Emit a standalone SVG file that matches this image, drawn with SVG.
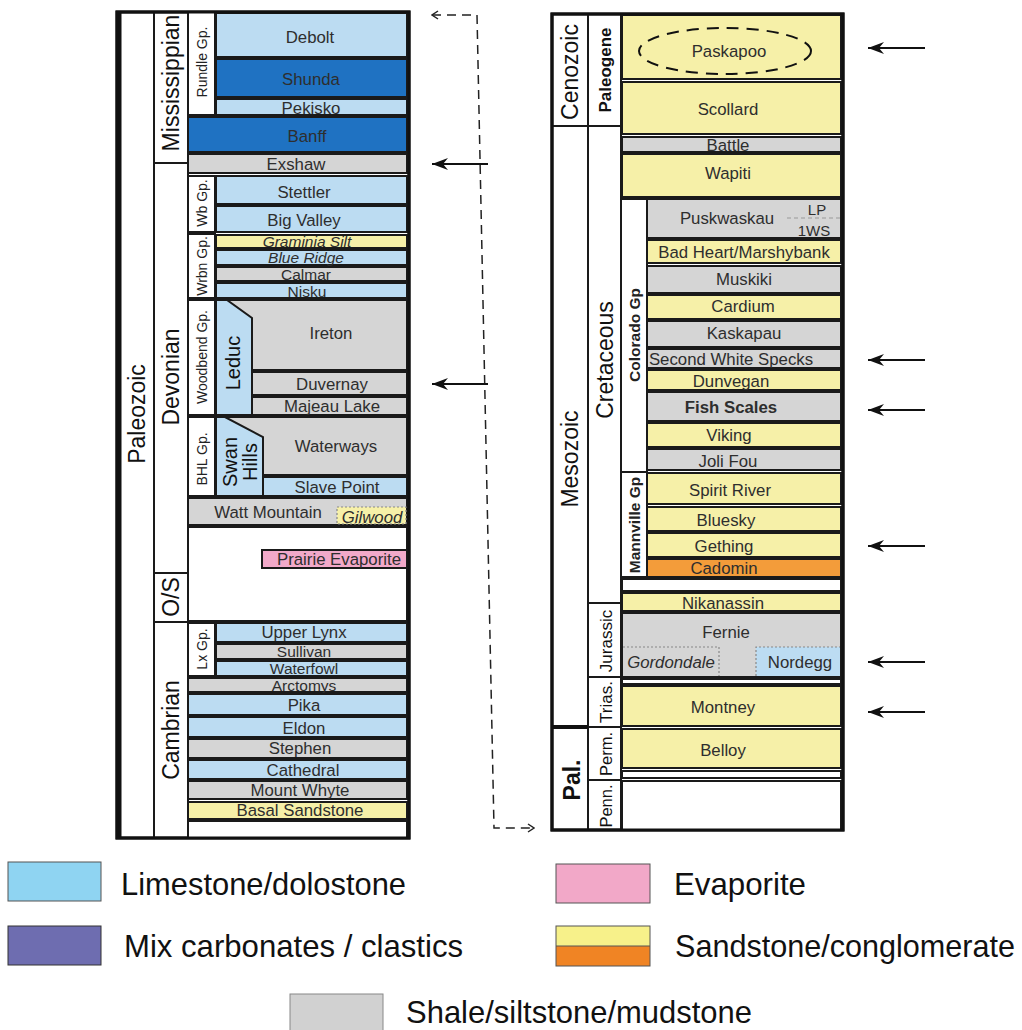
<svg xmlns="http://www.w3.org/2000/svg" width="1022" height="1030" viewBox="0 0 1022 1030">
<defs>
<style>
.f{stroke:#1a1a1a;stroke-width:2}
.w{fill:#fff}
.lb{fill:#bcdcf2}
.db{fill:#1f72c2}
.gy{fill:#d5d5d5}
.yl{fill:#f6f0a8}
.or{fill:#f39c3a}
.pk{fill:#f2a9c9}
.dot{fill:none;stroke:#888;stroke-width:1.2;stroke-dasharray:2 2}
.ln{stroke:#1a1a1a;stroke-width:2;fill:none}
text{font-family:"Liberation Sans",Arial,Helvetica,sans-serif}
.t{font-size:16.8px;fill:#2e2e2e;text-anchor:middle;dominant-baseline:central}
.s{font-size:15.5px}
.it{font-style:italic}
.p{font-size:23px;fill:#111;text-anchor:middle;dominant-baseline:central}
.g{font-size:14px;fill:#222;text-anchor:middle;dominant-baseline:central}
.b{font-weight:bold}
.lg{font-size:32px;fill:#111;dominant-baseline:central}
.arr{stroke:#111;stroke-width:2;fill:none}
.dash{stroke:#222;stroke-width:1.5;fill:none;stroke-dasharray:9 6}
</style>
<marker id="ah" viewBox="0 0 16 12" refX="16" refY="6" markerWidth="16" markerHeight="12" markerUnits="userSpaceOnUse" orient="auto">
<path d="M16,6 L0,0 L5,6 L0,12 Z" fill="#111"/>
</marker>
<marker id="chev" viewBox="0 0 8 10" refX="7" refY="5" markerWidth="8" markerHeight="10" markerUnits="userSpaceOnUse" orient="auto-start-reverse">
<path d="M1,1 L7,5 L1,9" fill="none" stroke="#222" stroke-width="1.5"/>
</marker>
</defs>
<rect width="1022" height="1030" fill="#fff"/>

<!-- LEFT COLUMN -->
<g id="left-frame">
<rect x="117" y="12" width="292" height="826" fill="#fff" stroke="#111" stroke-width="3"/>
<line x1="119" y1="12" x2="119" y2="838" stroke="#111" stroke-width="5"/>
<line class="ln" x1="154" y1="12" x2="154" y2="838"/>
<line class="ln" x1="188" y1="12" x2="188" y2="838"/>
<line class="ln" x1="154" y1="163" x2="188" y2="163"/>
<line class="ln" x1="154" y1="573" x2="188" y2="573"/>
<line class="ln" x1="154" y1="622" x2="188" y2="622"/>
</g>
<g id="era-paleozoic"><text class="p" transform="translate(137,414) rotate(-90)">Paleozoic</text></g>
<g id="per-mississippian"><text class="p" transform="translate(171,83) rotate(-90)">Mississippian</text></g>
<g id="per-devonian"><text class="p" transform="translate(171,377) rotate(-90)">Devonian</text></g>
<g id="per-os"><text class="p" transform="translate(171,597) rotate(-90)">O/S</text></g>
<g id="per-cambrian"><text class="p" transform="translate(171,730) rotate(-90)">Cambrian</text></g>

<g id="debolt"><rect class="f lb" x="216" y="13" width="191" height="44"/><text class="t" x="310" y="37">Debolt</text></g>
<g id="shunda"><rect class="f db" x="216" y="59" width="191" height="38"/><text class="t" x="311" y="79" fill="#111">Shunda</text></g>
<g id="pekisko"><rect class="f lb" x="216" y="99" width="191" height="16"/><text class="t" x="311" y="108">Pekisko</text></g>
<g id="rundle-gp"><rect class="f w" x="188" y="12" width="27" height="103"/><text class="g" transform="translate(202,62) rotate(-90)">Rundle Gp.</text></g>
<g id="banff"><rect class="f db" x="188" y="117" width="219" height="35"/><text class="t" x="307" y="136" fill="#111">Banff</text></g>
<g id="exshaw"><rect class="f gy" x="188" y="154" width="219" height="19"/><text class="t" x="296" y="164">Exshaw</text></g>
<g id="stettler"><rect class="f lb" x="216" y="176" width="191" height="28"/><text class="t" x="304" y="192">Stettler</text></g>
<g id="big-valley"><rect class="f lb" x="216" y="206" width="191" height="26"/><text class="t" x="304" y="220">Big Valley</text></g>
<g id="wb-gp"><rect class="f w" x="188" y="176" width="27" height="56"/><text class="g" transform="translate(202,203) rotate(-90)">Wb Gp.</text></g>
<g id="graminia"><rect class="f yl" x="216" y="235" width="191" height="13"/><text class="t s it" x="307" y="241.5">Graminia Silt</text></g>
<g id="blue-ridge"><rect class="f lb" x="216" y="250" width="191" height="15"/><text class="t s it" x="306" y="257.5" fill="#2c3a55">Blue Ridge</text></g>
<g id="calmar"><rect class="f gy" x="216" y="267" width="191" height="14"/><text class="t s" x="306" y="274">Calmar</text></g>
<g id="nisku"><rect class="f lb" x="216" y="283" width="191" height="15"/><text class="t s" x="307" y="291">Nisku</text></g>
<g id="wrbn-gp"><rect class="f w" x="188" y="234" width="27" height="64"/><text class="g" transform="translate(202,266) rotate(-90)">Wrbn Gp.</text></g>
<g id="ireton"><rect class="f gy" x="216" y="300" width="191" height="70"/><text class="t" x="331" y="333">Ireton</text></g>
<g id="duvernay"><rect class="f gy" x="252" y="372" width="155" height="23"/><text class="t" x="332" y="384">Duvernay</text></g>
<g id="majeau-lake"><rect class="f gy" x="252" y="397" width="155" height="18"/><text class="t" x="332" y="406">Majeau Lake</text></g>
<g id="leduc"><polygon class="f lb" points="216,300 227,300 252,318 252,415 216,415"/><text class="p" style="font-size:20px" transform="translate(233,363) rotate(-90)">Leduc</text></g>
<g id="woodbend-gp"><rect class="f w" x="188" y="300" width="27" height="115"/><text class="g" transform="translate(202,357) rotate(-90)">Woodbend Gp.</text></g>
<g id="waterways"><rect class="f gy" x="216" y="417" width="191" height="58"/><text class="t" x="336" y="446">Waterways</text></g>
<g id="slave-point"><rect class="f lb" x="263" y="477" width="144" height="19"/><text class="t" x="337" y="487">Slave Point</text></g>
<g id="swan-hills"><polygon class="f lb" points="216,417 225,417 263,437 263,496 216,496"/><text class="p" style="font-size:20px" transform="translate(230,462) rotate(-90)">Swan</text><text class="p" style="font-size:20px" transform="translate(250,462) rotate(-90)">Hills</text></g>
<g id="bhl-gp"><rect class="f w" x="188" y="417" width="27" height="79"/><text class="g" transform="translate(202,459) rotate(-90)">BHL Gp.</text></g>
<g id="watt-mountain"><rect class="f gy" x="188" y="498" width="219" height="27"/><text class="t" x="268" y="512">Watt Mountain</text></g>
<g id="gilwood"><rect class="yl" x="337" y="507" width="69" height="17"/><rect class="dot" x="337" y="507" width="69" height="17"/><text class="t it" x="372" y="517">Gilwood</text></g>
<g id="gap-devonian"><rect class="f w" x="188" y="527" width="219" height="94"/></g>
<g id="prairie-evaporite"><rect class="f pk" x="262" y="550" width="145" height="18"/><text class="t" x="339" y="559">Prairie Evaporite</text></g>
<g id="upper-lynx"><rect class="f lb" x="216" y="623" width="191" height="19"/><text class="t" x="304" y="632">Upper Lynx</text></g>
<g id="sullivan"><rect class="f gy" x="216" y="644" width="191" height="15"/><text class="t s" x="304" y="651">Sullivan</text></g>
<g id="waterfowl"><rect class="f lb" x="216" y="661" width="191" height="15"/><text class="t s" x="304" y="668.5">Waterfowl</text></g>
<g id="lx-gp"><rect class="f w" x="188" y="623" width="27" height="53"/><text class="g" transform="translate(202,649) rotate(-90)">Lx Gp.</text></g>
<g id="arctomys"><rect class="f gy" x="188" y="678" width="219" height="14"/><text class="t s" x="304" y="685">Arctomys</text></g>
<g id="pika"><rect class="f lb" x="188" y="694" width="219" height="21"/><text class="t" x="304" y="705">Pika</text></g>
<g id="eldon"><rect class="f lb" x="188" y="717" width="219" height="20"/><text class="t" x="304" y="728">Eldon</text></g>
<g id="stephen"><rect class="f gy" x="188" y="739" width="219" height="19"/><text class="t" x="300" y="748">Stephen</text></g>
<g id="cathedral"><rect class="f lb" x="188" y="760" width="219" height="19"/><text class="t" x="303" y="770">Cathedral</text></g>
<g id="mount-whyte"><rect class="f gy" x="188" y="781" width="219" height="18"/><text class="t" x="300" y="790">Mount Whyte</text></g>
<g id="basal-sandstone"><rect class="f yl" x="188" y="802" width="219" height="17"/><text class="t" x="300" y="810">Basal Sandstone</text></g>
<g id="base-left"><rect class="f w" x="188" y="821" width="219" height="17"/></g>
<rect x="117" y="12" width="292" height="826" fill="none" stroke="#111" stroke-width="3"/>

<!-- RIGHT COLUMN -->
<g id="right-frame">
<rect x="552" y="14" width="291" height="816" fill="#fff" stroke="#111" stroke-width="3"/>
<line class="ln" x1="588" y1="14" x2="588" y2="830"/>
<line class="ln" x1="621" y1="14" x2="621" y2="830"/>
<line class="ln" x1="552" y1="126" x2="621" y2="126"/>
<line x1="552" y1="727" x2="588" y2="727" stroke="#111" stroke-width="4"/>
<line class="ln" x1="588" y1="603" x2="621" y2="603"/>
<line class="ln" x1="588" y1="677" x2="621" y2="677"/>
<line class="ln" x1="588" y1="727" x2="621" y2="727"/>
<line class="ln" x1="588" y1="780" x2="621" y2="780"/>
</g>
<g id="era-cenozoic"><text class="p" transform="translate(570,72) rotate(-90)">Cenozoic</text></g>
<g id="era-mesozoic"><text class="p" transform="translate(570,459) rotate(-90)">Mesozoic</text></g>
<g id="era-pal"><text class="p b" transform="translate(572,780) rotate(-90)">Pal.</text></g>
<g id="per-paleogene"><text class="p b" style="font-size:17px" transform="translate(605,70) rotate(-90)">Paleogene</text></g>
<g id="per-cretaceous"><text class="p" transform="translate(605,360) rotate(-90)">Cretaceous</text></g>
<g id="per-jurassic"><text class="p" style="font-size:17px" transform="translate(606,641) rotate(-90)">Jurassic</text></g>
<g id="per-trias"><text class="p" style="font-size:17px" transform="translate(606,702) rotate(-90)">Trias.</text></g>
<g id="per-perm"><text class="p" style="font-size:16.5px" transform="translate(606,754) rotate(-90)">Perm.</text></g>
<g id="per-penn"><text class="p" style="font-size:16.5px" transform="translate(606,806) rotate(-90)">Penn.</text></g>

<g id="paskapoo"><rect class="f yl" x="622" y="15" width="219" height="64"/><ellipse cx="725" cy="51" rx="86" ry="23" fill="none" stroke="#111" stroke-width="2" stroke-dasharray="12 8"/><text class="t" x="729" y="51">Paskapoo</text></g>
<g id="scollard"><rect class="f yl" x="622" y="82" width="219" height="52"/><text class="t" x="728" y="109">Scollard</text></g>
<g id="battle"><rect class="f gy" x="622" y="137" width="219" height="15"/><text class="t" x="728" y="145">Battle</text></g>
<g id="wapiti"><rect class="f yl" x="622" y="154" width="219" height="43"/><text class="t" x="728" y="173">Wapiti</text></g>
<g id="puskwaskau"><rect class="f gy" x="647" y="199" width="194" height="39"/><text class="t" x="727" y="218">Puskwaskau</text><line x1="787" y1="218" x2="840" y2="218" stroke="#999" stroke-width="1.2" stroke-dasharray="4 3"/><text class="t" style="font-size:15px" x="817" y="209">LP</text><text class="t" style="font-size:15px" x="814" y="230">1WS</text></g>
<g id="bad-heart"><rect class="f yl" x="647" y="240" width="194" height="23"/><text class="t" x="744" y="252">Bad Heart/Marshybank</text></g>
<g id="muskiki"><rect class="f gy" x="647" y="266" width="194" height="27"/><text class="t" x="744" y="279">Muskiki</text></g>
<g id="cardium"><rect class="f yl" x="647" y="295" width="194" height="24"/><text class="t" x="743" y="306">Cardium</text></g>
<g id="kaskapau"><rect class="f gy" x="647" y="321" width="194" height="26"/><text class="t" x="744" y="333">Kaskapau</text></g>
<g id="second-white-specks"><rect class="f gy" x="647" y="349" width="194" height="19"/><text class="t" x="731" y="359">Second White Specks</text></g>
<g id="dunvegan"><rect class="f yl" x="647" y="370" width="194" height="20"/><text class="t" x="731" y="381">Dunvegan</text></g>
<g id="fish-scales"><rect class="f gy" x="647" y="392" width="194" height="29"/><text class="t b" x="731" y="407" fill="#111">Fish Scales</text></g>
<g id="viking"><rect class="f yl" x="647" y="423" width="194" height="24"/><text class="t" x="729" y="435">Viking</text></g>
<g id="joli-fou"><rect class="f gy" x="647" y="449" width="194" height="21"/><text class="t" x="728" y="461">Joli Fou</text></g>
<g id="colorado-gp"><rect class="f w" x="621" y="199" width="26" height="273"/><text class="g b" style="font-size:15.5px" transform="translate(634,335) rotate(-90)">Colorado Gp</text></g>
<g id="spirit-river"><rect class="f yl" x="647" y="473" width="194" height="31"/><text class="t" x="730" y="490">Spirit River</text></g>
<g id="bluesky"><rect class="f yl" x="647" y="507" width="194" height="24"/><text class="t" x="726" y="520">Bluesky</text></g>
<g id="gething"><rect class="f yl" x="647" y="533" width="194" height="24"/><text class="t" x="724" y="546">Gething</text></g>
<g id="cadomin"><rect class="f or" x="647" y="559" width="194" height="18"/><text class="t" x="724" y="568">Cadomin</text></g>
<g id="mannville-gp"><rect class="f w" x="621" y="472" width="26" height="105"/><text class="g b" style="font-size:15.5px" transform="translate(634,525) rotate(-90)">Mannville Gp</text></g>
<g id="gap-cretaceous"><rect class="f w" x="622" y="579" width="219" height="12"/></g>
<g id="nikanassin"><rect class="f yl" x="622" y="593" width="219" height="18"/><text class="t" x="723" y="603">Nikanassin</text></g>
<g id="fernie"><rect class="f gy" x="622" y="613" width="219" height="64"/><text class="t" x="726" y="632">Fernie</text></g>
<g id="gordondale"><path class="dot" d="M623,647 L719,647 L719,676"/><text class="t it" x="671" y="662">Gordondale</text></g>
<g id="nordegg"><rect class="lb" x="756" y="647" width="84" height="29"/><path class="dot" d="M756,676 L756,647 L840,647"/><text class="t" x="800" y="662">Nordegg</text></g>
<rect class="f" fill="none" x="622" y="613" width="219" height="64"/>
<g id="gap-triassic"><rect class="f w" x="622" y="679" width="219" height="5"/></g>
<g id="montney"><rect class="f yl" x="622" y="686" width="219" height="40"/><text class="t" x="723" y="707">Montney</text></g>
<g id="belloy"><rect class="f yl" x="622" y="729" width="219" height="39"/><text class="t" x="723" y="750">Belloy</text></g>
<g id="gap-permian"><rect class="f w" x="622" y="771" width="219" height="7"/></g>
<g id="pennsylvanian"><rect class="f w" x="622" y="781" width="219" height="49"/></g>
<rect x="552" y="14" width="291" height="816" fill="none" stroke="#111" stroke-width="3"/>

<!-- CONNECTORS -->
<g id="connectors">
<path class="dash" d="M432,15 L477,15 L494,828 L534,828" marker-start="url(#chev)" marker-end="url(#chev)"/>
<line class="arr" x1="488" y1="164" x2="432" y2="164" marker-end="url(#ah)"/>
<line class="arr" x1="488" y1="384" x2="432" y2="384" marker-end="url(#ah)"/>
<line class="arr" x1="925" y1="48" x2="868" y2="48" marker-end="url(#ah)"/>
<line class="arr" x1="925" y1="360" x2="868" y2="360" marker-end="url(#ah)"/>
<line class="arr" x1="925" y1="410" x2="868" y2="410" marker-end="url(#ah)"/>
<line class="arr" x1="925" y1="546" x2="868" y2="546" marker-end="url(#ah)"/>
<line class="arr" x1="925" y1="662" x2="868" y2="662" marker-end="url(#ah)"/>
<line class="arr" x1="925" y1="712" x2="868" y2="712" marker-end="url(#ah)"/>
</g>

<!-- LEGEND -->
<g id="legend-limestone"><rect x="8" y="862" width="93" height="39" fill="#8fd4f2" stroke="#555" stroke-width="1"/><text class="lg" x="121" y="884" textLength="285" lengthAdjust="spacingAndGlyphs">Limestone/dolostone</text></g>
<g id="legend-evaporite"><rect x="556" y="864" width="94" height="39" fill="#f2a8c8" stroke="#555" stroke-width="1"/><text class="lg" x="674" y="884" textLength="132" lengthAdjust="spacingAndGlyphs">Evaporite</text></g>
<g id="legend-mix"><rect x="8" y="926" width="93" height="39" fill="#6e6db0" stroke="#333" stroke-width="1"/><text class="lg" x="124" y="946" textLength="339" lengthAdjust="spacingAndGlyphs">Mix carbonates / clastics</text></g>
<g id="legend-sandstone"><rect x="556" y="926" width="94" height="20" fill="#f7f18a"/><rect x="556" y="946" width="94" height="20" fill="#f08424"/><line x1="556" y1="946" x2="650" y2="946" stroke="#555" stroke-width="1"/><rect x="556" y="926" width="94" height="40" fill="none" stroke="#555" stroke-width="1"/><text class="lg" x="675" y="946" textLength="340" lengthAdjust="spacingAndGlyphs">Sandstone/conglomerate</text></g>
<g id="legend-shale"><rect x="290" y="994" width="93" height="40" fill="#d1d1d1" stroke="#888" stroke-width="1"/><text class="lg" x="406" y="1012" textLength="346" lengthAdjust="spacingAndGlyphs">Shale/siltstone/mudstone</text></g>
</svg>
